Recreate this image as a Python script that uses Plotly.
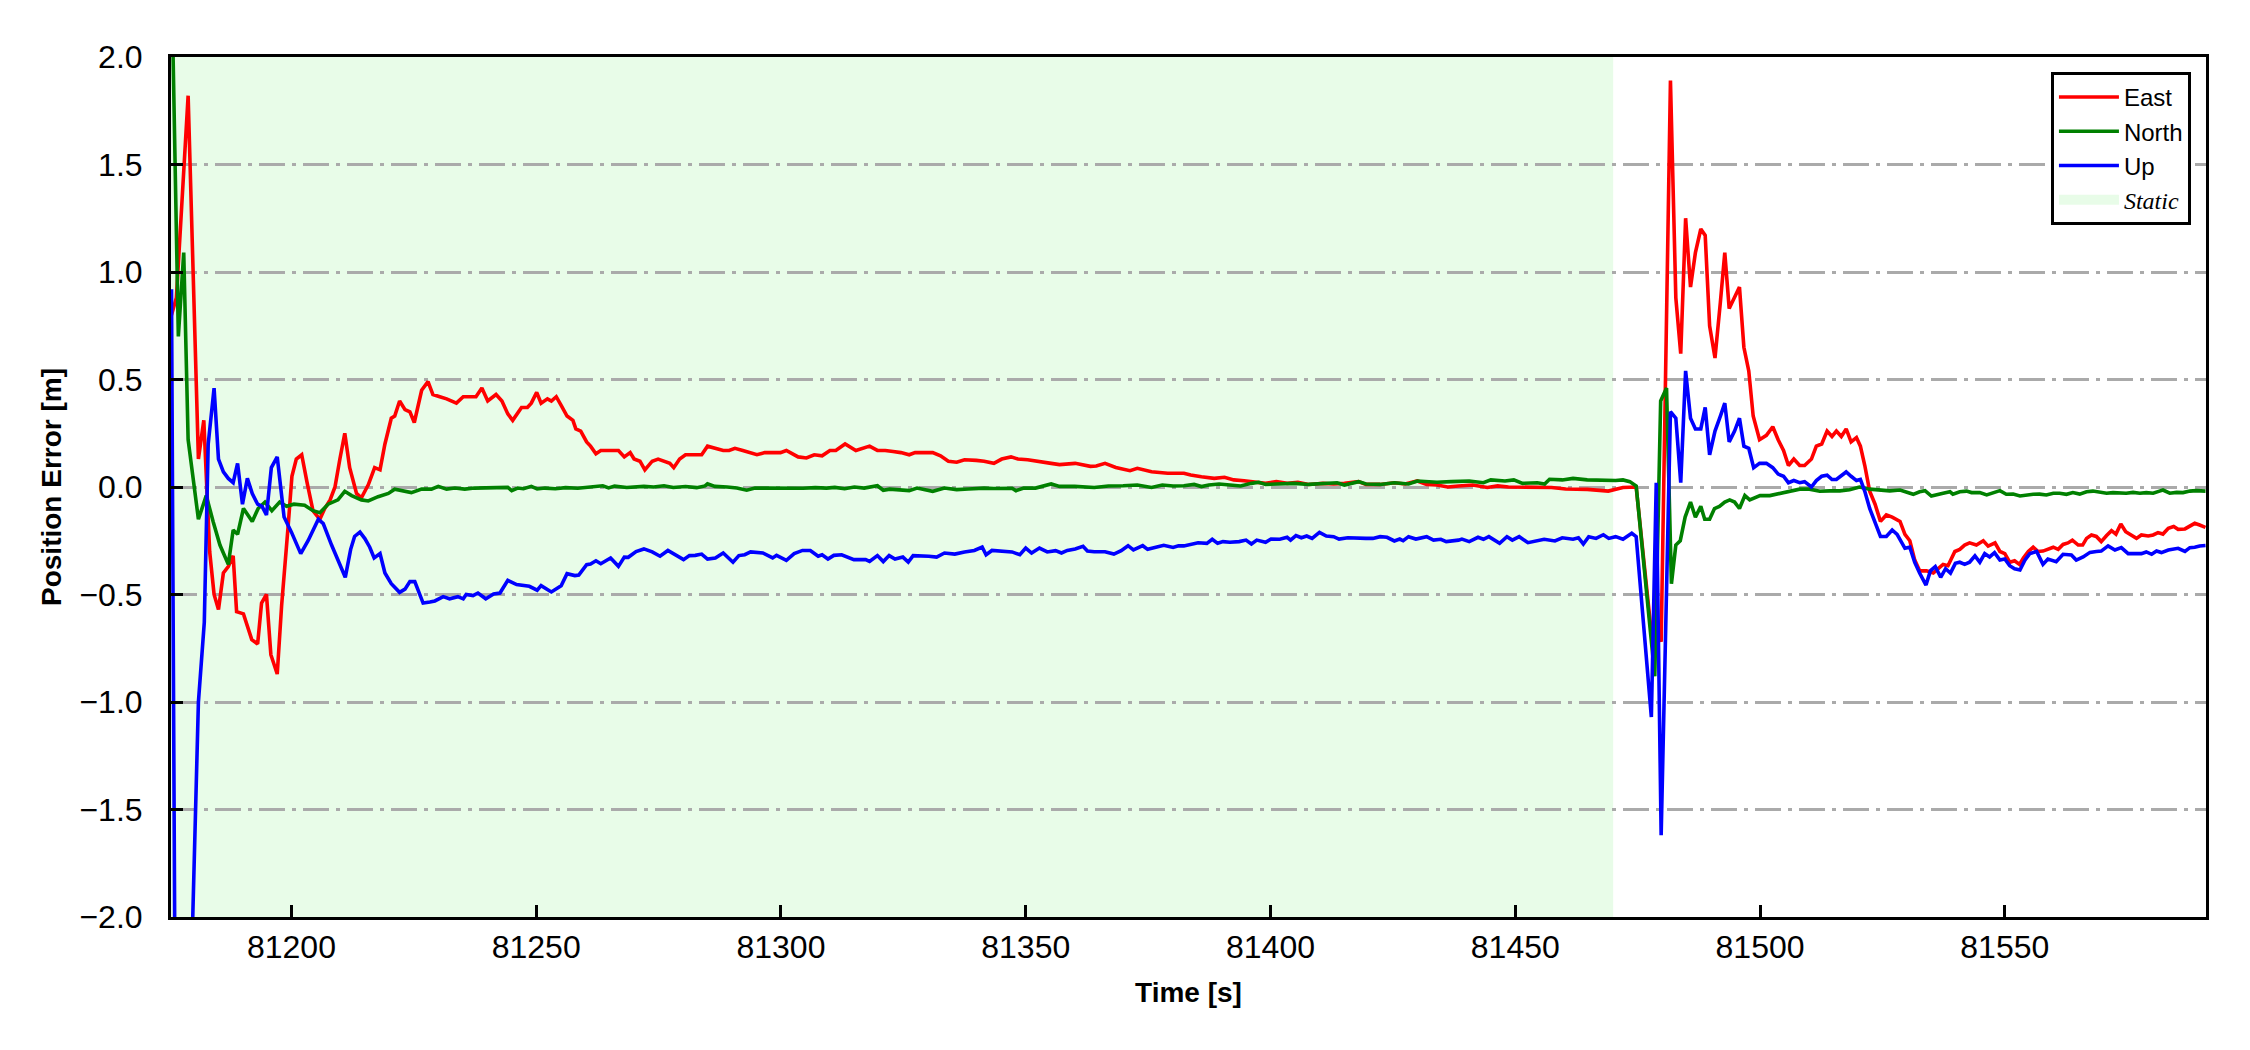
import plotly.graph_objects as go

# ---------------- data ----------------
t_east = [81175.5, 81176.5, 81178.9, 81181.0, 81182.1, 81183.3, 81184.2, 81185.1, 81186.1, 81187.1,
          81188.1, 81188.8, 81190.2, 81190.8, 81191.9, 81193.1, 81193.9, 81194.9, 81195.8, 81197.1,
          81198.0, 81199.3, 81200.1, 81201.0, 81202.1, 81203.2, 81204.4, 81205.8, 81206.8, 81207.9,
          81208.9, 81209.9, 81210.9, 81211.9, 81213.3, 81214.3, 81215.7, 81217.0, 81218.1, 81219.1,
          81220.4, 81221.1, 81222.1, 81223.2, 81224.2, 81225.1, 81226.6, 81227.9, 81228.9, 81230.3,
          81231.7, 81233.7, 81235.1, 81236.5, 81237.7, 81238.9, 81240.1, 81241.8, 81243.0, 81244.2,
          81245.2, 81247.0, 81248.2, 81249.0, 81250.1, 81251.0, 81252.3, 81253.1, 81254.1, 81255.1,
          81256.3, 81257.5, 81258.1, 81259.1, 81260.3, 81261.1, 81262.2, 81263.2, 81264.8, 81266.8,
          81268.0, 81269.2, 81270.0, 81271.2, 81272.2, 81273.7, 81274.9, 81276.1, 81277.3, 81278.1,
          81279.3, 81280.5, 81282.5, 81283.8, 81285.0, 81286.6, 81288.2, 81289.4, 81290.6, 81292.2,
          81293.4, 81295.1, 81296.7, 81298.7, 81299.9, 81301.1, 81302.3, 81303.5, 81305.2, 81306.8,
          81308.4, 81310.0, 81311.2, 81313.1, 81315.3, 81316.5, 81318.1, 81319.7, 81321.3, 81322.9,
          81324.5, 81326.2, 81327.4, 81329.0, 81331.0, 81332.6, 81334.2, 81335.9, 81337.5, 81339.9,
          81341.5, 81343.5, 81345.1, 81347.0, 81348.4, 81350.4, 81352.0, 81353.6, 81355.2, 81356.9,
          81358.5, 81360.1, 81363.2, 81364.4, 81366.2, 81368.4, 81371.3, 81372.8, 81375.7, 81379.0,
          81382.3, 81383.7, 81385.9, 81388.5, 81390.6, 81392.5, 81394.6, 81396.8, 81399.0, 81401.2,
          81403.4, 81405.6, 81407.8, 81410.7, 81412.9, 81415.1, 81418.0, 81419.5, 81422.4, 81425.3,
          81427.5, 81430.0, 81431.9, 81434.0, 81436.2, 81438.4, 81441.3, 81444.3, 81446.4, 81448.6,
          81451.5, 81454.5, 81457.4, 81460.3, 81464.7, 81469.0, 81472.0, 81474.7, 81477.8, 81478.8,
          81479.8, 81481.7, 81482.8, 81483.8, 81484.8, 81485.8, 81486.8, 81487.9, 81488.8, 81489.7,
          81490.8, 81491.9, 81492.8, 81493.7, 81494.8, 81495.8, 81496.7, 81497.7, 81498.6, 81499.9,
          81501.3, 81502.6, 81503.7, 81504.8, 81505.8, 81506.9, 81508.1, 81509.1, 81510.5, 81511.5,
          81512.6, 81513.7, 81514.7, 81515.6, 81516.6, 81517.6, 81518.6, 81519.7, 81520.5, 81521.4,
          81522.4, 81523.5, 81524.6, 81525.8, 81527.0, 81528.6, 81529.6, 81530.6, 81531.6, 81532.6,
          81534.0, 81535.4, 81536.4, 81537.4, 81538.4, 81539.8, 81540.8, 81541.8, 81542.8, 81544.2,
          81545.6, 81546.6, 81548.0, 81549.0, 81550.0, 81551.0, 81552.0, 81553.0, 81553.8, 81554.8,
          81555.8, 81556.8, 81557.8, 81558.8, 81559.9, 81560.9, 81561.9, 81562.9, 81563.8, 81565.0,
          81565.9, 81566.7, 81567.7, 81568.7, 81569.7, 81570.8, 81571.8, 81572.7, 81573.7, 81574.7,
          81575.9, 81576.9, 81577.9, 81579.3, 81580.3, 81581.3, 81582.3, 81583.4, 81584.5, 81585.4,
          81586.8, 81587.8, 81588.8, 81589.8, 81591.0]
east = [0.80, 0.88, 1.82, 0.13, 0.31, -0.30, -0.50, -0.57, -0.40, -0.37,
        -0.32, -0.58, -0.59, -0.63, -0.71, -0.73, -0.54, -0.50, -0.78, -0.87,
        -0.55, -0.19, 0.05, 0.13, 0.15, 0.02, -0.11, -0.15, -0.10, -0.06,
        0.00, 0.13, 0.25, 0.09, -0.03, -0.05, 0.01, 0.09, 0.08, 0.20,
        0.32, 0.33, 0.40, 0.36, 0.35, 0.30, 0.45, 0.49, 0.43, 0.42,
        0.41, 0.39, 0.42, 0.42, 0.42, 0.46, 0.40, 0.43, 0.40, 0.34,
        0.31, 0.37, 0.37, 0.39, 0.44, 0.39, 0.41, 0.40, 0.42, 0.38,
        0.33, 0.31, 0.27, 0.26, 0.21, 0.19, 0.155, 0.17, 0.17, 0.17,
        0.14, 0.16, 0.13, 0.12, 0.08, 0.12, 0.13, 0.12, 0.11, 0.09,
        0.13, 0.15, 0.15, 0.15, 0.19, 0.18, 0.17, 0.17, 0.18, 0.17,
        0.16, 0.15, 0.16, 0.16, 0.16, 0.17, 0.155, 0.14, 0.135, 0.15,
        0.145, 0.17, 0.17, 0.20, 0.17, 0.18, 0.19, 0.17, 0.17, 0.165,
        0.16, 0.15, 0.16, 0.16, 0.16, 0.145, 0.12, 0.115, 0.127, 0.124,
        0.12, 0.11, 0.13, 0.14, 0.13, 0.127, 0.12, 0.116, 0.11, 0.104,
        0.109, 0.11, 0.096, 0.098, 0.11, 0.091, 0.076, 0.087, 0.071, 0.064,
        0.064, 0.056, 0.048, 0.04, 0.045, 0.033, 0.029, 0.025, 0.017, 0.025,
        0.017, 0.022, 0.012, 0.017, 0.014, 0.017, 0.025, 0.012, 0.012, 0.02,
        0.014, 0.028, 0.012, 0.009, 0.0, 0.005, 0.009, -0.002, 0.005, 0.0,
        0.0, -0.002, -0.002, -0.009, -0.011, -0.019, -0.002, 0.0, -0.68, -0.62,
        -0.72, 1.89, 0.88, 0.62, 1.25, 0.93, 1.09, 1.20, 1.17, 0.75,
        0.60, 0.86, 1.09, 0.83, 0.88, 0.93, 0.65, 0.54, 0.33, 0.22,
        0.24, 0.28, 0.22, 0.17, 0.10, 0.13, 0.10, 0.10, 0.13, 0.19,
        0.20, 0.26, 0.235, 0.26, 0.235, 0.27, 0.21, 0.23, 0.19, 0.10,
        -0.02, -0.08, -0.16, -0.13, -0.14, -0.16, -0.22, -0.25, -0.34, -0.39,
        -0.39, -0.40, -0.38, -0.36, -0.366, -0.30, -0.29, -0.27, -0.26, -0.27,
        -0.25, -0.275, -0.26, -0.30, -0.31, -0.35, -0.343, -0.36, -0.33, -0.30,
        -0.28, -0.30, -0.298, -0.29, -0.28, -0.29, -0.267, -0.26, -0.247, -0.27,
        -0.27, -0.239, -0.223, -0.23, -0.254, -0.226, -0.203, -0.219, -0.172, -0.208,
        -0.223, -0.239, -0.223, -0.228, -0.223, -0.212, -0.219, -0.192, -0.184, -0.197,
        -0.195, -0.184, -0.169, -0.177, -0.188]

t_north = [81175.5, 81176.9, 81178.0, 81178.9, 81181.0, 81182.6, 81184.0, 81185.4, 81187.1, 81188.1,
           81189.0, 81190.2, 81192.0, 81193.2, 81194.6, 81196.0, 81197.6, 81199.0, 81200.5, 81202.7,
           81204.4, 81205.8, 81207.5, 81209.5, 81210.9, 81212.3, 81214.3, 81215.7, 81217.7, 81219.8,
           81221.1, 81222.5, 81224.5, 81226.6, 81228.6, 81230.0, 81231.7, 81233.4, 81235.4, 81237.4,
           81240.5, 81244.2, 81245.0, 81246.2, 81247.4, 81249.0, 81250.2, 81251.8, 81253.9, 81256.0,
           81258.5, 81261.0, 81263.6, 81264.8, 81266.0, 81268.5, 81272.0, 81274.0, 81276.1, 81278.0,
           81280.5, 81282.8, 81284.5, 81285.0, 81286.5, 81289.0, 81291.0, 81293.0, 81294.7, 81297.0,
           81299.5, 81302.0, 81304.5, 81307.0, 81309.3, 81311.0, 81313.0, 81315.0, 81317.0, 81319.7,
           81320.9, 81322.2, 81326.2, 81327.8, 81331.0, 81333.4, 81335.9, 81338.3, 81341.5, 81343.5,
           81347.2, 81348.0, 81349.6, 81352.0, 81355.2, 81356.9, 81360.0, 81364.0, 81366.9, 81369.9,
           81372.8, 81375.7, 81377.9, 81380.1, 81382.3, 81384.4, 81385.9, 81387.4, 81389.5, 81391.7,
           81393.9, 81396.1, 81397.6, 81399.0, 81401.9, 81404.9, 81407.8, 81410.7, 81413.6, 81415.1,
           81418.0, 81419.5, 81422.4, 81425.3, 81428.2, 81430.0, 81434.0, 81436.9, 81440.6, 81443.5,
           81445.0, 81447.9, 81449.7, 81451.5, 81454.5, 81456.0, 81457.0, 81459.6, 81461.8, 81464.7,
           81467.6, 81470.5, 81472.0, 81473.4, 81474.7, 81478.5, 81479.7, 81480.9, 81481.9, 81482.8,
           81483.7, 81484.7, 81485.8, 81486.8, 81487.9, 81488.7, 81489.7, 81490.7, 81491.7, 81492.8,
           81493.8, 81494.8, 81495.8, 81496.9, 81497.9, 81500.0, 81502.0, 81504.0, 81506.0, 81508.1,
           81510.1, 81512.2, 81514.2, 81516.3, 81518.3, 81520.3, 81522.4, 81524.5, 81526.5, 81528.6,
           81529.9, 81531.3, 81532.6, 81533.7, 81535.0, 81536.4, 81537.4, 81538.8, 81539.4, 81540.8,
           81542.2, 81543.2, 81544.9, 81546.3, 81547.6, 81549.0, 81550.3, 81551.7, 81553.1, 81554.4,
           81555.8, 81557.1, 81558.5, 81559.9, 81561.2, 81562.6, 81563.9, 81565.3, 81566.7, 81568.0,
           81569.4, 81570.8, 81572.1, 81573.5, 81574.8, 81576.2, 81577.6, 81578.9, 81580.3, 81581.6,
           81582.3, 81583.7, 81585.1, 81586.4, 81587.8, 81589.1, 81591.0]
north = [2.4, 0.70, 1.09, 0.22, -0.15, -0.04, -0.16, -0.27, -0.36, -0.20,
         -0.22, -0.10, -0.16, -0.10, -0.07, -0.11, -0.07, -0.09, -0.08, -0.085,
         -0.11, -0.12, -0.08, -0.06, -0.02, -0.04, -0.06, -0.065, -0.045, -0.03,
         -0.01, -0.018, -0.026, -0.01, -0.01, 0.003, -0.01, -0.005, -0.01, -0.005,
         -0.005, -0.002, -0.017, -0.005, -0.008, 0.003, -0.009, -0.005, -0.008, -0.003,
         -0.006, -0.002, 0.006, -0.004, 0.004, -0.002, 0.003, 0.0, 0.006, -0.002,
         0.002, -0.003, 0.005, 0.015, 0.003, 0.0, -0.005, -0.015, -0.005, -0.005,
         -0.006, -0.004, -0.006, -0.003, -0.005, -0.002, -0.008, 0.0, -0.005, 0.006,
         -0.015, -0.01, -0.017, -0.005, -0.02, -0.005, -0.012, -0.009, -0.005, -0.007,
         -0.006, -0.017, -0.005, -0.005, 0.014, 0.003, 0.003, -0.002, 0.005, 0.006,
         0.009, -0.002, 0.009, 0.005, 0.006, 0.012, 0.002, 0.009, 0.014, 0.009,
         0.005, 0.017, 0.022, 0.012, 0.014, 0.017, 0.012, 0.017, 0.02, 0.009,
         0.025, 0.014, 0.012, 0.02, 0.014, 0.028, 0.022, 0.025, 0.028, 0.02,
         0.033, 0.028, 0.033, 0.017, 0.02, 0.014, 0.036, 0.033, 0.04, 0.033,
         0.03, 0.03, 0.033, 0.025, 0.005, -0.88, 0.40, 0.46, -0.45, -0.27,
         -0.25, -0.14, -0.07, -0.14, -0.09, -0.15, -0.15, -0.10, -0.09, -0.07,
         -0.06, -0.07, -0.10, -0.04, -0.06, -0.04, -0.04, -0.03, -0.02, -0.01,
         -0.01, -0.02, -0.018, -0.018, -0.013, 0.0, -0.01, -0.013, -0.018, -0.014,
         -0.022, -0.034, -0.022, -0.017, -0.042, -0.033, -0.029, -0.022, -0.033, -0.022,
         -0.019, -0.026, -0.026, -0.037, -0.029, -0.017, -0.034, -0.033, -0.042, -0.037,
         -0.034, -0.033, -0.037, -0.029, -0.029, -0.034, -0.026, -0.033, -0.022, -0.019,
         -0.025, -0.029, -0.026, -0.029, -0.029, -0.025, -0.029, -0.026, -0.029, -0.019,
         -0.014, -0.029, -0.025, -0.026, -0.019, -0.017, -0.019]

t_up = [81175.5, 81176.5, 81177.5, 81178.5, 81179.5, 81181.0, 81182.2, 81183.0, 81184.2, 81185.1,
        81186.1, 81187.1, 81188.1, 81189.0, 81190.0, 81191.0, 81192.0, 81193.1, 81194.0, 81194.9,
        81195.9, 81197.1, 81198.5, 81200.0, 81201.9, 81203.4, 81205.5, 81206.5, 81208.2, 81209.5,
        81211.0, 81212.1, 81212.9, 81214.0, 81215.0, 81216.0, 81216.9, 81218.1, 81219.1, 81220.4,
        81222.1, 81223.2, 81224.2, 81225.2, 81226.9, 81228.3, 81229.3, 81231.0, 81232.3, 81234.0,
        81235.1, 81235.7, 81237.1, 81238.1, 81239.7, 81241.3, 81242.6, 81244.2, 81246.0, 81248.6,
        81250.2, 81251.0, 81253.1, 81255.1, 81256.3, 81257.9, 81258.7, 81260.3, 81261.1, 81262.2,
        81263.2, 81265.2, 81266.8, 81268.0, 81268.8, 81270.4, 81272.0, 81273.7, 81275.3, 81276.9,
        81278.5, 81280.1, 81281.3, 81282.5, 81283.8, 81285.0, 81286.6, 81288.2, 81290.2, 81291.4,
        81292.6, 81293.8, 81296.3, 81298.3, 81299.1, 81301.1, 81302.7, 81304.4, 81306.0, 81307.6,
        81308.4, 81309.6, 81310.8, 81312.4, 81314.9, 81317.3, 81318.1, 81319.7, 81320.9, 81322.1,
        81323.3, 81324.9, 81326.0, 81327.0, 81330.2, 81331.8, 81333.4, 81335.5, 81337.5, 81339.5,
        81341.1, 81341.9, 81343.1, 81347.2, 81348.8, 81350.0, 81351.2, 81352.8, 81354.4, 81356.1,
        81357.3, 81358.5, 81360.1, 81361.7, 81362.6, 81364.0, 81366.2, 81368.0, 81369.5, 81370.9,
        81372.0, 81373.9, 81374.9, 81376.4, 81378.2, 81380.1, 81381.2, 81382.3, 81383.7, 81385.2,
        81387.0, 81388.1, 81389.2, 81390.3, 81391.7, 81393.6, 81395.0, 81396.1, 81397.2, 81399.0,
        81400.1, 81401.9, 81403.4, 81404.1, 81405.2, 81406.3, 81407.4, 81408.5, 81410.0, 81411.4,
        81412.9, 81414.0, 81415.8, 81417.6, 81419.5, 81420.9, 81422.4, 81423.8, 81425.3, 81426.4,
        81427.1, 81428.2, 81429.7, 81431.9, 81433.3, 81434.8, 81435.9, 81438.4, 81439.1, 81440.6,
        81442.4, 81443.5, 81444.6, 81446.8, 81448.3, 81449.4, 81450.8, 81452.6, 81454.5, 81455.9,
        81458.1, 81459.6, 81461.8, 81462.9, 81463.9, 81465.0, 81466.5, 81468.0, 81469.1, 81470.5,
        81472.0, 81473.8, 81474.7, 81477.8, 81478.8, 81479.8, 81481.7, 81482.8, 81483.8, 81484.8,
        81485.8, 81486.8, 81487.9, 81488.8, 81489.7, 81490.8, 81491.9, 81492.8, 81493.7, 81494.8,
        81495.8, 81496.7, 81497.7, 81498.7, 81499.9, 81501.3, 81502.6, 81503.7, 81504.8, 81505.8,
        81506.9, 81508.1, 81509.1, 81510.5, 81511.5, 81512.6, 81513.7, 81514.7, 81515.6, 81516.6,
        81517.6, 81518.6, 81519.7, 81520.5, 81521.4, 81522.4, 81523.5, 81524.6, 81525.8, 81527.0,
        81528.0, 81529.6, 81530.6, 81531.6, 81532.6, 81533.9, 81534.8, 81535.8, 81536.9, 81537.9,
        81538.9, 81539.9, 81540.8, 81541.8, 81542.8, 81543.9, 81544.9, 81545.9, 81546.9, 81547.9,
        81549.0, 81550.0, 81551.0, 81552.0, 81553.1, 81554.1, 81555.1, 81556.5, 81557.8, 81558.8,
        81560.5, 81561.9, 81563.6, 81564.6, 81566.0, 81567.4, 81568.7, 81569.7, 81571.1, 81572.5,
        81573.8, 81575.2, 81576.5, 81577.9, 81578.9, 81580.0, 81581.0, 81582.0, 81583.4, 81584.4,
        81585.4, 81586.8, 81587.8, 81588.8, 81589.8, 81591.0]
up = [0.92, -3.6, -3.9, -3.3, -2.3, -1.0, -0.63, 0.20, 0.46, 0.13,
      0.07, 0.04, 0.02, 0.11, -0.08, 0.04, -0.03, -0.08, -0.09, -0.13,
      0.09, 0.14, -0.14, -0.21, -0.31, -0.25, -0.15, -0.17, -0.27, -0.34,
      -0.42, -0.29, -0.23, -0.21, -0.24, -0.28, -0.33, -0.31, -0.40, -0.45,
      -0.49, -0.475, -0.44, -0.44, -0.54, -0.535, -0.53, -0.51, -0.52, -0.51,
      -0.52, -0.50, -0.505, -0.493, -0.52, -0.498, -0.493, -0.434, -0.454, -0.462,
      -0.48, -0.459, -0.488, -0.459, -0.403, -0.412, -0.41, -0.361, -0.358, -0.343,
      -0.357, -0.33, -0.369, -0.326, -0.327, -0.30, -0.288, -0.302, -0.322, -0.295,
      -0.315, -0.338, -0.319, -0.318, -0.312, -0.335, -0.33, -0.307, -0.35, -0.319,
      -0.315, -0.302, -0.307, -0.33, -0.318, -0.341, -0.31, -0.295, -0.295, -0.322,
      -0.315, -0.335, -0.318, -0.315, -0.338, -0.338, -0.346, -0.319, -0.347, -0.319,
      -0.335, -0.326, -0.349, -0.319, -0.322, -0.326, -0.307, -0.312, -0.302, -0.295,
      -0.279, -0.315, -0.295, -0.302, -0.315, -0.284, -0.307, -0.284, -0.302, -0.296,
      -0.307, -0.295, -0.288, -0.276, -0.298, -0.301, -0.301, -0.312, -0.296, -0.273,
      -0.293, -0.273, -0.29, -0.281, -0.271, -0.281, -0.273, -0.274, -0.265, -0.259,
      -0.262, -0.243, -0.262, -0.254, -0.257, -0.254, -0.247, -0.265, -0.247, -0.257,
      -0.242, -0.243, -0.234, -0.247, -0.226, -0.236, -0.228, -0.239, -0.211, -0.228,
      -0.231, -0.242, -0.236, -0.239, -0.239, -0.239, -0.231, -0.234, -0.251, -0.242,
      -0.25, -0.231, -0.242, -0.231, -0.247, -0.243, -0.254, -0.247, -0.242, -0.254,
      -0.234, -0.243, -0.231, -0.262, -0.231, -0.247, -0.231, -0.259, -0.251, -0.243,
      -0.251, -0.236, -0.243, -0.236, -0.265, -0.231, -0.239, -0.222, -0.239, -0.231,
      -0.243, -0.215, -0.231, -1.07, 0.02, -1.62, 0.35, 0.32, 0.02, 0.54,
      0.32, 0.27, 0.27, 0.37, 0.15, 0.26, 0.33, 0.39, 0.21, 0.26,
      0.32, 0.19, 0.18, 0.09, 0.11, 0.11, 0.09, 0.06, 0.05, 0.02,
      0.03, 0.02, 0.025, 0.0, 0.03, 0.05, 0.055, 0.035, 0.035, 0.05,
      0.07, 0.05, 0.03, 0.035, -0.02, -0.10, -0.17, -0.23, -0.23, -0.20,
      -0.22, -0.285, -0.28, -0.35, -0.40, -0.456, -0.39, -0.37, -0.42, -0.38,
      -0.40, -0.355, -0.35, -0.36, -0.35, -0.32, -0.35, -0.31, -0.325, -0.305,
      -0.34, -0.335, -0.366, -0.38, -0.386, -0.34, -0.31, -0.30, -0.36, -0.335,
      -0.347, -0.313, -0.316, -0.34, -0.325, -0.304, -0.30, -0.298, -0.274, -0.293,
      -0.282, -0.31, -0.31, -0.31, -0.302, -0.313, -0.298, -0.305, -0.293, -0.288,
      -0.285, -0.30, -0.282, -0.28, -0.274, -0.272]

static_start = 81175.0
static_end = 81470.0

x_range = [81175.4, 81591.1]
y_range = [-2.0, 2.0]
x_ticks = [81200, 81250, 81300, 81350, 81400, 81450, 81500, 81550]
y_ticks = [-2.0, -1.5, -1.0, -0.5, 0.0, 0.5, 1.0, 1.5, 2.0]

# ---------------- figure ----------------
SANS = "Liberation Sans, Arial, sans-serif"
SERIF = "Liberation Serif, Times New Roman, serif"
STATIC_FILL = "#e8fce8"

fig = go.Figure()

series = [("East", t_east, east, "#ff0000", 1),
          ("North", t_north, north, "#008000", 2),
          ("Up", t_up, up, "#0000ff", 3)]
for name, tx, vy, col, rank in series:
    fig.add_trace(go.Scatter(x=tx, y=vy, mode="lines", name=name,
                             line=dict(color=col, width=3.6), legendrank=rank))

# legend entry for the static period (the shaded band itself is a layout shape)
fig.add_trace(go.Scatter(x=[None], y=[None], mode="lines",
                         line=dict(width=20, color=STATIC_FILL),
                         name=f'<span style="font-family:{SERIF}"><i>Static</i></span>',
                         legendrank=4))

fig.add_shape(type="rect", xref="x", yref="paper", x0=static_start, x1=static_end,
              y0=0, y1=1, fillcolor=STATIC_FILL, line=dict(width=0), layer="below")

axis_common = dict(showline=True, linecolor="black", linewidth=3, mirror=True,
                   ticks="inside", ticklen=12, tickwidth=3, tickcolor="black",
                   zeroline=False, tickfont=dict(family=SANS, size=32, color="black"))

fig.update_xaxes(range=x_range, tickvals=x_ticks, tickformat="d", showgrid=False,
                 title=dict(text="<b>Time [s]</b>", font=dict(family=SANS, size=28, color="black"),
                            standoff=18),
                 ticklabelstandoff=0, **axis_common)
fig.update_yaxes(range=y_range, tickvals=y_ticks, tickformat=".1f", showgrid=True,
                 gridcolor="#aaaaaa", gridwidth=3, griddash="26px,7px,4px,7px",
                 title=dict(text="<b>Position Error [m]</b>", font=dict(family=SANS, size=28, color="black"),
                            standoff=10),
                 ticklabelstandoff=19, **axis_common)

fig.update_layout(
    width=2234, height=1034,
    margin=dict(l=163, r=36, t=49, b=125, autoexpand=False),
    paper_bgcolor="white", plot_bgcolor="white",
    font=dict(family=SANS, size=26, color="black"),
    legend=dict(x=0.9926, xanchor="right", y=0.9826, yanchor="top",
                bgcolor="white", bordercolor="black", borderwidth=3,
                font=dict(family=SANS, size=24, color="black"),
                tracegroupgap=0, itemwidth=60),
)

fig.write_html("out.html")
